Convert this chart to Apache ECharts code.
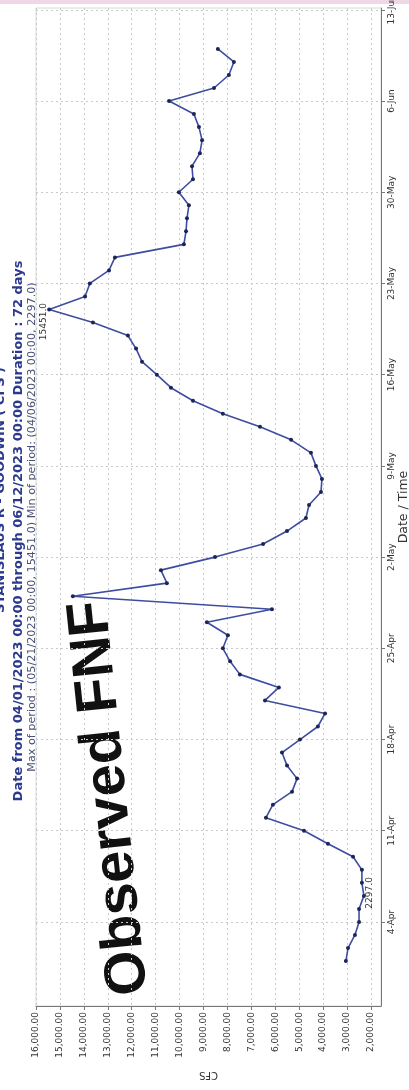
<!DOCTYPE html>
<html>
<head>
<meta charset="utf-8">
<script src="https://cdn.jsdelivr.net/npm/echarts@6/dist/echarts.min.js"></script>
<style>
html, body { margin: 0; padding: 0; background: #fff; }
#chart { width: 409px; height: 1090px; }
</style>
</head>
<body>
<div id="chart"></div>
<script>
// daily observed flow, CFS
const aprDays = ['2023-04-01','2023-04-02','2023-04-03','2023-04-04','2023-04-05','2023-04-06','2023-04-07','2023-04-08','2023-04-09','2023-04-10',
    '2023-04-11','2023-04-12','2023-04-13','2023-04-14','2023-04-15','2023-04-16','2023-04-17','2023-04-18','2023-04-19','2023-04-20',
    '2023-04-21','2023-04-22','2023-04-23','2023-04-24','2023-04-25','2023-04-26','2023-04-27','2023-04-28','2023-04-29','2023-04-30'];
const aprFlow = [3050, 2960, 2670, 2500, 2500, 2297, 2380, 2380, 2750, 3800,
    4800, 6390, 6100, 5300, 5090, 5510, 5720, 4970, 4220, 3920,
    6430, 5850, 7480, 7890, 8190, 7980, 8860, 6140, 14460, 10530];
const mayDays = ['2023-05-01','2023-05-02','2023-05-03','2023-05-04','2023-05-05','2023-05-06','2023-05-07','2023-05-08','2023-05-09','2023-05-10',
    '2023-05-11','2023-05-12','2023-05-13','2023-05-14','2023-05-15','2023-05-16','2023-05-17','2023-05-18','2023-05-19','2023-05-20',
    '2023-05-21','2023-05-22','2023-05-23','2023-05-24','2023-05-25','2023-05-26','2023-05-27','2023-05-28','2023-05-29','2023-05-30','2023-05-31'];
const mayFlow = [10780, 8520, 6510, 5510, 4720, 4590, 4090, 4050, 4300, 4510,
    5340, 6640, 8190, 9440, 10360, 10950, 11570, 11820, 12160, 13620,
    15451, 13950, 13750, 12950, 12700, 9820, 9730, 9690, 9610, 10030, 9440];
const junDays = ['2023-06-01','2023-06-02','2023-06-03','2023-06-04','2023-06-05','2023-06-06','2023-06-07','2023-06-08','2023-06-09','2023-06-10'];
const junFlow = [9480, 9150, 9060, 9190, 9400, 10440, 8560, 7940, 7730, 8400];

const dateTicks = ['2023-04-04','2023-04-11','2023-04-18','2023-04-25','2023-05-02','2023-05-09',
    '2023-05-16','2023-05-23','2023-05-30','2023-06-06','2023-06-13'];
const cfsTicks = [2000, 3000, 4000, 5000, 6000, 7000, 8000, 9000, 10000, 11000, 12000, 13000, 14000, 15000, 16000];
const monthNames = ['Jan','Feb','Mar','Apr','May','Jun','Jul','Aug','Sep','Oct','Nov','Dec'];

const DAY = 86400000;
const toMs = function (s) {
    const p = s.split('-');
    return Date.UTC(+p[0], +p[1] - 1, +p[2]);
};

const days = aprDays.concat(mayDays, junDays);
const flow = aprFlow.concat(mayFlow, junFlow);
const maxIdx = flow.indexOf(Math.max.apply(null, flow));
const minIdx = flow.indexOf(Math.min.apply(null, flow));

const seriesData = days.map(function (d, i) {
    const item = { value: [flow[i], toMs(d)] };
    if (i === maxIdx) {
        // offset is in the label's rotated frame: -x moves it down the page
        item.label = { show: true, position: 'left', distance: 3, rotate: 90, align: 'center', verticalAlign: 'middle', offset: [-12, 0] };
    } else if (i === minIdx) {
        item.label = { show: true, position: 'right', distance: 4, rotate: 90, align: 'center', verticalAlign: 'middle', offset: [3, 0] };
    }
    return item;
});

const chart = echarts.init(document.getElementById('chart'), null, { renderer: 'canvas' });

const gridLine = { show: true, lineStyle: { color: '#c9c9c9', type: [2, 3], width: 1 } };

chart.setOption({
    backgroundColor: '#ffffff',
    animation: false,
    grid: {
        left: 36, right: 28, top: 8, bottom: 84,
        outerBoundsMode: 'none',
        containLabel: false,
        show: true, borderColor: '#d8d8d8', borderWidth: 1
    },
    xAxis: {
        type: 'value',
        inverse: true,
        position: 'bottom',
        min: 1582,
        max: 16000,
        name: 'CFS',
        nameLocation: 'middle',
        nameGap: 64,
        nameRotate: 180,
        nameMoveOverlap: false,
        nameTextStyle: { fontFamily: 'DejaVu Sans', fontSize: 10, color: '#333' },
        axisLine: { show: true, onZero: false, lineStyle: { color: '#777', width: 1 } },
        axisTick: { show: true, customValues: cfsTicks, length: 4, lineStyle: { color: '#777' } },
        axisLabel: {
            customValues: cfsTicks,
            rotate: 90,
            margin: 6,
            fontFamily: 'DejaVu Sans',
            fontSize: 9,
            color: '#333',
            formatter: function (v) {
                return v.toLocaleString('en-US', { minimumFractionDigits: 2, maximumFractionDigits: 2 });
            }
        },
        splitLine: gridLine
    },
    yAxis: {
        type: 'value',
        position: 'right',
        min: toMs('2023-04-04') - 6.45 * DAY,
        max: toMs('2023-06-06') + 7.14 * DAY,
        name: 'Date / Time',
        nameLocation: 'middle',
        nameGap: 16,
        nameRotate: 90,
        nameMoveOverlap: false,
        nameTextStyle: { fontFamily: 'DejaVu Sans', fontSize: 12.5, color: '#333' },
        axisLine: { show: true, lineStyle: { color: '#777', width: 1 } },
        axisTick: { show: true, customValues: dateTicks.map(toMs), length: 4, lineStyle: { color: '#777' } },
        axisLabel: {
            customValues: dateTicks.map(toMs),
            rotate: 90,
            margin: 6,
            fontFamily: 'DejaVu Sans',
            fontSize: 9,
            color: '#333',
            formatter: function (v) {
                const d = new Date(v);
                return d.getUTCDate() + '-' + monthNames[d.getUTCMonth()];
            }
        },
        splitLine: gridLine
    },
    series: [{
        type: 'line',
        data: seriesData,
        symbol: 'circle',
        symbolSize: 4,
        lineStyle: { color: '#3e4da0', width: 1.6 },
        itemStyle: { color: '#1c2558' },
        label: {
            show: false,
            fontFamily: 'DejaVu Sans',
            fontSize: 9,
            color: '#333',
            formatter: function (p) { return p.value[0].toFixed(1); }
        }
    }],
    graphic: [
        { type: 'rect', left: 0, top: 0, shape: { width: 409, height: 4 }, style: { fill: '#efd7e6' }, silent: true },
        {
            type: 'text', x: 1, y: 490, rotation: Math.PI / 2,
            style: { text: 'STANISLAUS R - GOODWIN ( CFS )', fill: '#2b3a8f', font: 'bold 13px "DejaVu Sans"', align: 'center', verticalAlign: 'middle' }
        },
        {
            type: 'text', x: 19, y: 531, rotation: Math.PI / 2,
            style: { text: 'Date from 04/01/2023 00:00 through 06/12/2023 00:00 Duration : 72 days', fill: '#2b3a8f', font: 'bold 13px "DejaVu Sans"', align: 'center', verticalAlign: 'middle' }
        },
        {
            type: 'text', x: 32, y: 527, rotation: Math.PI / 2,
            style: { text: 'Max of period : (05/21/2023 00:00, 15451.0) Min of period: (04/06/2023 00:00, 2297.0)', fill: '#4a5274', font: '11.2px "DejaVu Sans"', align: 'center', verticalAlign: 'middle' }
        },
        {
            type: 'text', x: 110, y: 798, rotation: 96 * Math.PI / 180,
            style: { text: 'Observed FNF', fill: '#111', font: 'bold 58px "Liberation Sans"', align: 'center', verticalAlign: 'middle' }
        }
    ]
});
</script>
</body>
</html>
